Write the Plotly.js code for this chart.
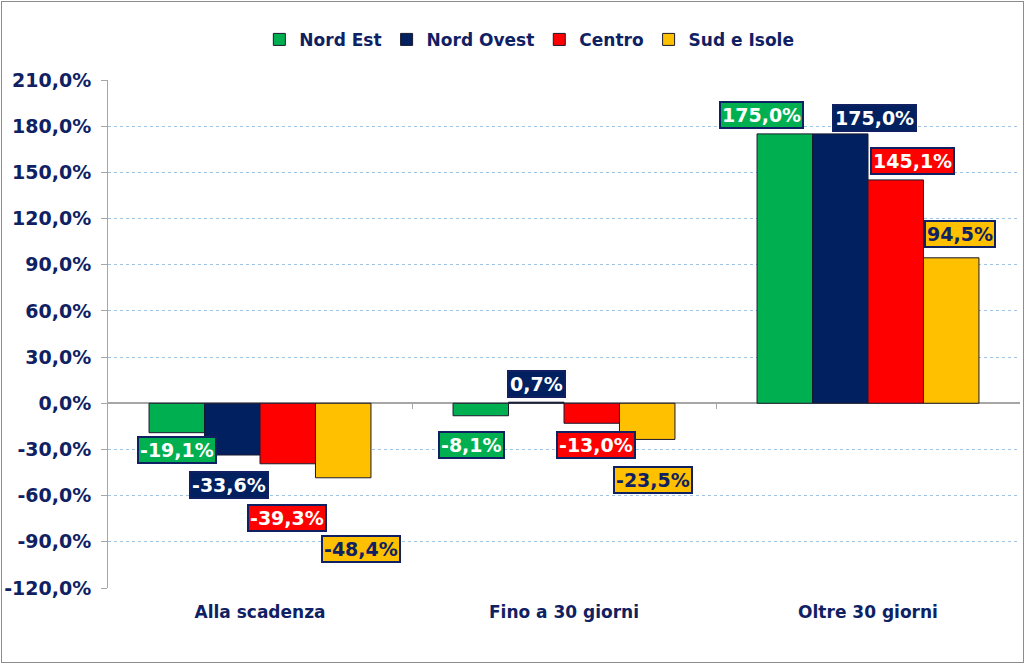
<!DOCTYPE html>
<html>
<head>
<meta charset="utf-8">
<script src="https://cdn.plot.ly/plotly-3.0.1.min.js"></script>
<style>
  html, body { margin: 0; padding: 0; background: #ffffff; }
  #chart { position: absolute; left: 1px; top: 1px; width: 1021px; height: 660px; border: 1px solid #8c8c8c; }
</style>
</head>
<body>
<div id="chart"></div>
<script>
// ---- data ----
const categories = ['Alla scadenza', 'Fino a 30 giorni', 'Oltre 30 giorni'];
const seriesNames = ['Nord Est', 'Nord Ovest', 'Centro', 'Sud e Isole'];
const nordEst = [-19.1, -8.1, 175.0];
const nordOvest = [-33.6, 0.7, 175.0];
const centro = [-39.3, -13.0, 145.1];
const sudIsole = [-48.4, -23.5, 94.5];
const yTickVals = [-120, -90, -60, -30, 0, 30, 60, 90, 120, 150, 180, 210];
const yTickText = ['-120,0%', '-90,0%', '-60,0%', '-30,0%', '0,0%', '30,0%', '60,0%', '90,0%', '120,0%', '150,0%', '180,0%', '210,0%'];

// ---- styles ----
const seriesValues = [nordEst, nordOvest, centro, sudIsole];
const colors = ['#00B050', '#002060', '#FF0000', '#FFC000'];
const labelTextColors = ['#ffffff', '#ffffff', '#ffffff', '#0F2163'];
const navy = '#0F2163';
const bargap = 0.27;
const fontFam = 'Verdana, "DejaVu Sans", sans-serif';
// label offsets in pixels [series][category]
const labelXShift = [[0, -9, -23], [-3, 0, 34], [-1, 4, 17], [18, 6, 9]];
const labelYShift = [[-17, -29, 19], [-30, 18, 16], [-54, -22, 19], [-71, -41, 24]];

const traces = seriesValues.map((vals, j) => ({
  type: 'bar',
  name: seriesNames[j],
  x: categories,
  y: vals,
  marker: { color: colors[j], line: { color: '#1a1a2e', width: 1 } },
  hoverinfo: 'skip'
}));
// helper trace so the zero-level category axis is drawn
traces.push({ type: 'scatter', x: [0], y: [0], xaxis: 'x2', yaxis: 'y', mode: 'markers',
  marker: { opacity: 0 }, showlegend: false, hoverinfo: 'skip' });

const bw = (1 - bargap) / seriesValues.length;
const fmt = v => v.toFixed(1).replace('.', ',') + '%';
const annotations = [];
seriesValues.forEach((vals, j) => {
  vals.forEach((v, i) => {
    annotations.push({
      xref: 'x', yref: 'y',
      x: i + (j - (seriesValues.length - 1) / 2) * bw,
      y: v,
      text: fmt(v),
      showarrow: false,
      xanchor: 'center', yanchor: 'middle',
      xshift: labelXShift[j][i], yshift: labelYShift[j][i],
      font: { family: fontFam, size: 19, color: labelTextColors[j], weight: 'bold' },
      bgcolor: colors[j], bordercolor: navy, borderwidth: 2, borderpad: 1
    });
  });
});

const yMin = -120, yMax = 210;
const layout = {
  width: 1021, height: 660,
  margin: { l: 106, r: 3, t: 78, b: 74 },
  paper_bgcolor: '#ffffff', plot_bgcolor: '#ffffff',
  barmode: 'group', bargap: bargap, bargroupgap: 0,
  showlegend: true,
  legend: {
    orientation: 'h', x: 0.462, xanchor: 'center', y: 1.079, yanchor: 'middle',
    font: { family: fontFam, size: 17, color: navy, weight: 'bold' },
    traceorder: 'normal'
  },
  xaxis: {
    type: 'category', showline: false, ticks: '', showgrid: false, zeroline: false,
    tickfont: { family: fontFam, size: 17, color: navy, weight: 'bold' },
    ticklabelstandoff: 12,
    fixedrange: true
  },
  xaxis2: {
    overlaying: 'x', anchor: 'free', position: (0 - yMin) / (yMax - yMin),
    range: [-0.5, 2.5], showgrid: false, zeroline: false, showticklabels: false,
    showline: true, linecolor: '#a6a6a6', linewidth: 2,
    ticks: 'outside', tickvals: [0.5, 1.5], ticklen: 5, tickcolor: '#a6a6a6', tickwidth: 1,
    layer: 'below traces'
  },
  yaxis: {
    range: [yMin, yMax], tickvals: yTickVals, ticktext: yTickText,
    showline: true, linecolor: '#a6a6a6', linewidth: 1,
    ticks: 'outside', ticklen: 6, tickcolor: '#a6a6a6',
    showgrid: true, gridcolor: '#9DC3E6', griddash: 'dot', gridwidth: 1,
    zeroline: false,
    tickfont: { family: fontFam, size: 19, color: navy, weight: 'bold' },
    ticklabelstandoff: 6,
    fixedrange: true
  },
  annotations: annotations
};

Plotly.newPlot('chart', traces, layout, { displayModeBar: false, staticPlot: true });
</script>
</body>
</html>
